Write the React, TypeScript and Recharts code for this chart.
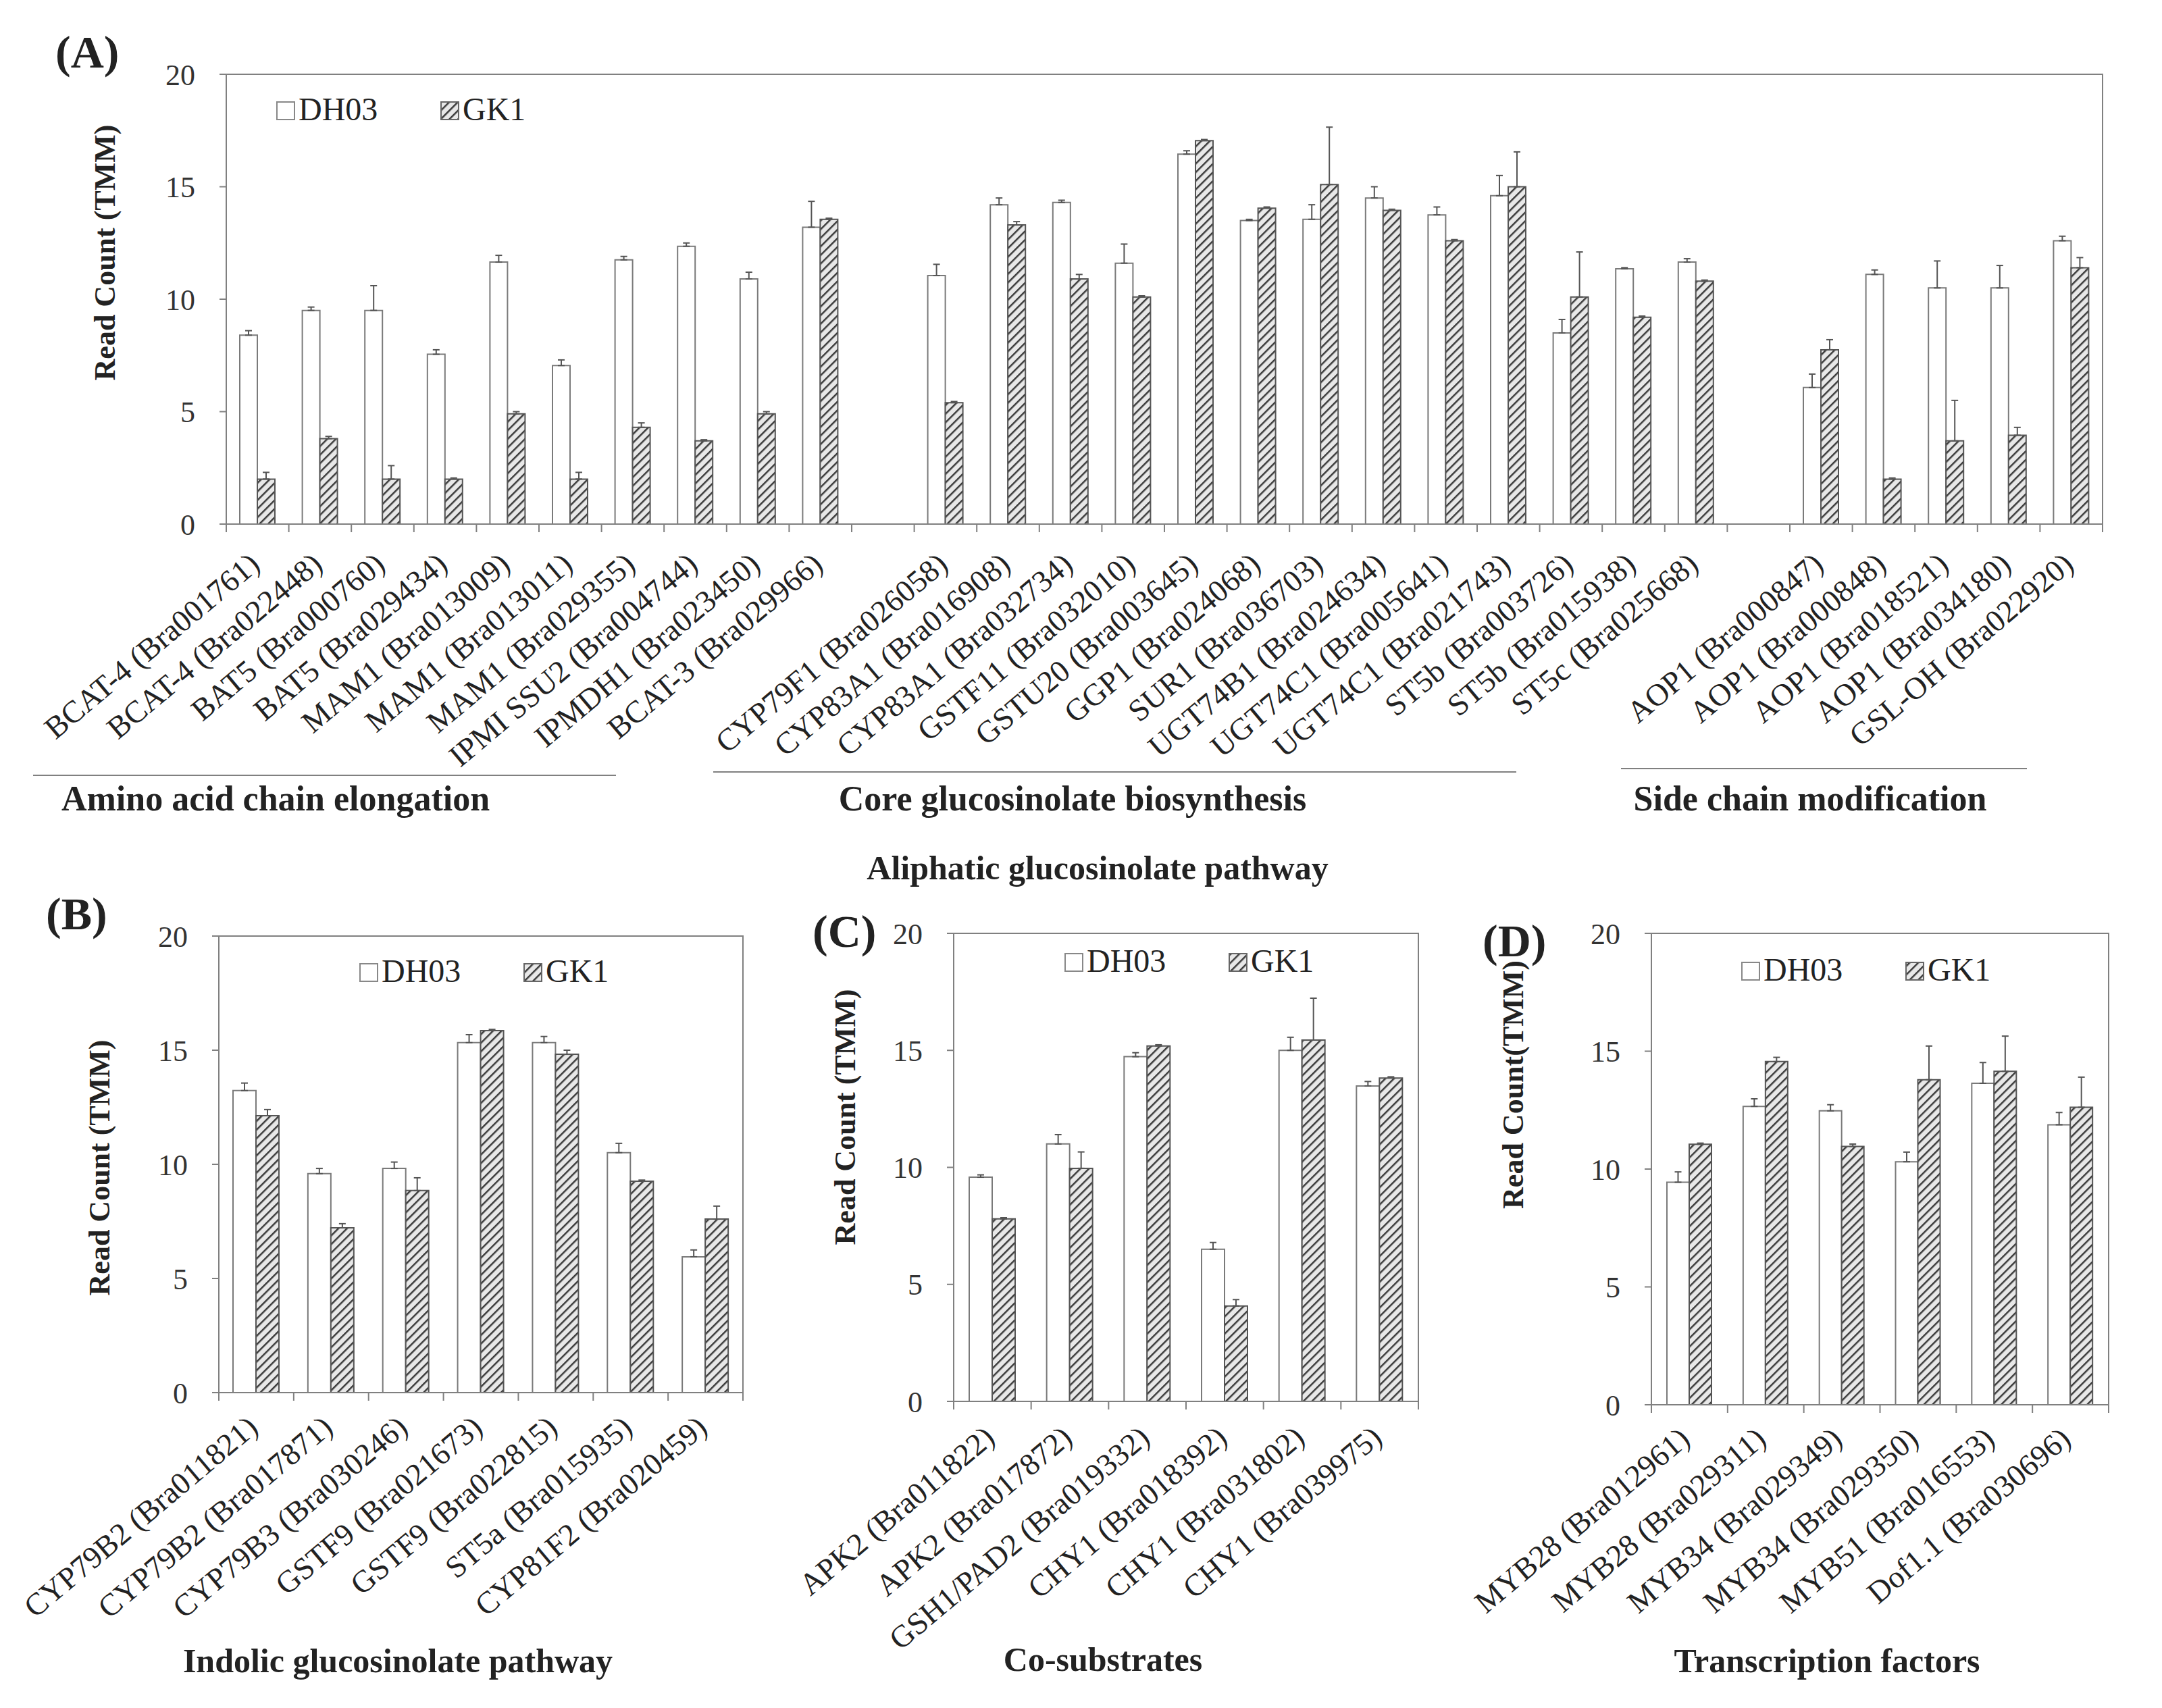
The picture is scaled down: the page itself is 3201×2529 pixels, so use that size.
import React from "react";
import { BarChart, Bar, XAxis, YAxis, ErrorBar } from "recharts";

const SERIF = "'Liberation Serif', 'Times New Roman', serif";
const AXIS = "#808080";
const INK = "#222";

const seriesNames = ["DH03", "GK1"];
const yTicks = [0, 5, 10, 15, 20];

// (A) aliphatic glucosinolate pathway
const aminoGenes = [
  "BCAT-4 (Bra001761)", "BCAT-4 (Bra022448)", "BAT5 (Bra000760)", "BAT5 (Bra029434)",
  "MAM1 (Bra013009)", "MAM1 (Bra013011)", "MAM1 (Bra029355)", "IPMI SSU2 (Bra004744)",
  "IPMDH1 (Bra023450)", "BCAT-3 (Bra029966)",
];
const aminoDH03 = [8.4, 9.5, 9.5, 7.55, 11.65, 7.05, 11.75, 12.35, 10.9, 13.2];
const aminoGK1 = [2.0, 3.8, 2.0, 2.0, 4.9, 2.0, 4.3, 3.7, 4.9, 13.55];
const aminoDH03Err = [0.2, 0.15, 1.1, 0.2, 0.3, 0.25, 0.15, 0.15, 0.3, 1.15];
const aminoGK1Err = [0.3, 0.1, 0.6, 0.05, 0.1, 0.3, 0.2, 0.05, 0.1, 0.05];

const coreGenes = [
  "CYP79F1 (Bra026058)", "CYP83A1 (Bra016908)", "CYP83A1 (Bra032734)", "GSTF11 (Bra032010)",
  "GSTU20 (Bra003645)", "GGP1 (Bra024068)", "SUR1 (Bra036703)", "UGT74B1 (Bra024634)",
  "UGT74C1 (Bra005641)", "UGT74C1 (Bra021743)", "ST5b (Bra003726)", "ST5b (Bra015938)",
  "ST5c (Bra025668)",
];
const coreDH03 = [11.05, 14.2, 14.3, 11.6, 16.45, 13.5, 13.55, 14.5, 13.75, 14.6, 8.5, 11.35, 11.65];
const coreGK1 = [5.4, 13.3, 10.9, 10.1, 17.05, 14.05, 15.1, 13.95, 12.6, 15.0, 10.1, 9.2, 10.8];
const coreDH03Err = [0.5, 0.3, 0.1, 0.85, 0.15, 0.05, 0.65, 0.5, 0.35, 0.9, 0.6, 0.05, 0.15];
const coreGK1Err = [0.05, 0.15, 0.2, 0.05, 0.05, 0.05, 2.55, 0.05, 0.05, 1.55, 2.0, 0.05, 0.05];

const sideGenes = [
  "AOP1 (Bra000847)", "AOP1 (Bra000848)", "AOP1 (Bra018521)", "AOP1 (Bra034180)", "GSL-OH (Bra022920)",
];
const sideDH03 = [6.07, 11.1, 10.5, 10.5, 12.6];
const sideGK1 = [7.75, 2.0, 3.7, 3.95, 11.4];
const sideDH03Err = [0.6, 0.2, 1.2, 1.0, 0.2];
const sideGK1Err = [0.45, 0.05, 1.8, 0.35, 0.45];

// (B) indolic glucosinolate pathway
const indolicGenes = [
  "CYP79B2 (Bra011821)", "CYP79B2 (Bra017871)", "CYP79B3 (Bra030246)", "GSTF9 (Bra021673)",
  "GSTF9 (Bra022815)", "ST5a (Bra015935)", "CYP81F2 (Bra020459)",
];
const indolicDH03 = [13.23, 9.59, 9.82, 15.33, 15.33, 10.51, 5.95];
const indolicGK1 = [12.13, 7.22, 8.85, 15.86, 14.82, 9.26, 7.6];
const indolicDH03Err = [0.33, 0.23, 0.28, 0.35, 0.27, 0.41, 0.3];
const indolicGK1Err = [0.27, 0.18, 0.56, 0.05, 0.18, 0.05, 0.57];

// (C) co-substrates
const cosubGenes = [
  "APK2 (Bra011822)", "APK2 (Bra017872)", "GSH1/PAD2 (Bra019332)", "CHY1 (Bra018392)",
  "CHY1 (Bra031802)", "CHY1 (Bra039975)",
];
const cosubDH03 = [9.58, 11.0, 14.73, 6.5, 15.0, 13.48];
const cosubGK1 = [7.8, 9.96, 15.19, 4.08, 15.44, 13.82];
const cosubDH03Err = [0.1, 0.4, 0.17, 0.29, 0.56, 0.19];
const cosubGK1Err = [0.05, 0.7, 0.05, 0.27, 1.79, 0.05];

// (D) transcription factors
const tfGenes = [
  "MYB28 (Bra012961)", "MYB28 (Bra029311)", "MYB34 (Bra029349)", "MYB34 (Bra029350)",
  "MYB51 (Bra016553)", "Dof1.1 (Bra030696)",
];
const tfDH03 = [9.44, 12.66, 12.47, 10.31, 13.64, 11.88];
const tfGK1 = [11.05, 14.56, 10.96, 13.79, 14.15, 12.62];
const tfDH03Err = [0.44, 0.32, 0.26, 0.41, 0.88, 0.52];
const tfGK1Err = [0.05, 0.18, 0.1, 1.43, 1.49, 1.28];

type Row = {
  name: string;
  dh03: number | null;
  gk1: number | null;
  dh03Err?: number[];
  gk1Err?: number[];
};

function rows(genes: string[], a: number[], b: number[], ea: number[], eb: number[]): Row[] {
  return genes.map((g, i) => ({
    name: g,
    dh03: a[i],
    gk1: b[i],
    dh03Err: [0, ea[i]],
    gk1Err: [0, eb[i]],
  }));
}

const gap = (id: string): Row => ({ name: id, dh03: null, gk1: null });

const dataA = [
  ...rows(aminoGenes, aminoDH03, aminoGK1, aminoDH03Err, aminoGK1Err),
  gap("gap-1"),
  ...rows(coreGenes, coreDH03, coreGK1, coreDH03Err, coreGK1Err),
  gap("gap-2"),
  ...rows(sideGenes, sideDH03, sideGK1, sideDH03Err, sideGK1Err),
];
const dataB = rows(indolicGenes, indolicDH03, indolicGK1, indolicDH03Err, indolicGK1Err);
const dataC = rows(cosubGenes, cosubDH03, cosubGK1, cosubDH03Err, cosubGK1Err);
const dataD = rows(tfGenes, tfDH03, tfGK1, tfDH03Err, tfGK1Err);

type PanelProps = {
  data: Row[];
  left: number;
  top: number;
  width: number;
  height: number;
  margin: { top: number; right: number; bottom: number; left: number };
  yAxisWidth: number;
  xAxisHeight: number;
  barSize: number;
  labelDx: number;
  labelDy: number;
};

function Panel(p: PanelProps) {
  const plotW = p.width - p.margin.left - p.margin.right - p.yAxisWidth;
  const band = plotW / p.data.length;
  const n = p.data.length;

  const renderTick = (t: any) => {
    const { x, y, payload, index } = t;
    const label = String(payload.value);
    const isGap = label.startsWith("gap-");
    return (
      <g>
        <line x1={x - band / 2} x2={x - band / 2} y1={y} y2={y + 12} stroke={AXIS} strokeWidth={2} />
        {index === n - 1 && (
          <line x1={x + band / 2} x2={x + band / 2} y1={y} y2={y + 12} stroke={AXIS} strokeWidth={2} />
        )}
        {!isGap && (
          <text
            transform={`translate(${x + p.labelDx},${y + p.labelDy}) rotate(-40)`}
            textAnchor="end"
            fontSize={46}
            fontFamily={SERIF}
            fill={INK}
          >
            {label}
          </text>
        )}
      </g>
    );
  };

  return (
    <div style={{ position: "absolute", left: p.left, top: p.top }}>
      <BarChart width={p.width} height={p.height} data={p.data} margin={p.margin} barGap={0}>
        <XAxis
          dataKey="name"
          interval={0}
          height={p.xAxisHeight}
          tickLine={false}
          tickSize={0}
          tickMargin={0}
          axisLine={{ stroke: AXIS, strokeWidth: 2 }}
          tick={renderTick}
        />
        <YAxis
          domain={[0, 20]}
          ticks={yTicks}
          interval={0}
          width={p.yAxisWidth}
          tickSize={10}
          tickMargin={36}
          axisLine={{ stroke: AXIS, strokeWidth: 2 }}
          tickLine={{ stroke: AXIS, strokeWidth: 2 }}
          tick={{ fontSize: 44, fill: "#333", fontFamily: SERIF }}
        />
        <Bar
          dataKey="dh03"
          name={seriesNames[0]}
          fill="#ffffff"
          stroke="#7a7a7a"
          strokeWidth={2}
          barSize={p.barSize}
          isAnimationActive={false}
        >
          <ErrorBar dataKey="dh03Err" width={5} stroke="#555" strokeWidth={2} direction="y" />
        </Bar>
        <Bar
          dataKey="gk1"
          name={seriesNames[1]}
          fill="url(#hatch)"
          stroke="#555"
          strokeWidth={2}
          barSize={p.barSize}
          isAnimationActive={false}
        >
          <ErrorBar dataKey="gk1Err" width={5} stroke="#555" strokeWidth={2} direction="y" />
        </Bar>
      </BarChart>
    </div>
  );
}

function Legend({ x, y }: { x: number; y: number }) {
  // x,y = top-left of the DH03 swatch
  return (
    <g>
      <rect x={x} y={y} width={26} height={26} fill="#fff" stroke="#888" strokeWidth={2} />
      <text x={x + 32} y={y + 27} fontSize={48} fontFamily={SERIF} fill={INK}>
        {seriesNames[0]}
      </text>
      <rect x={x + 243} y={y} width={26} height={26} fill="url(#hatch)" stroke="#666" strokeWidth={2} />
      <text x={x + 275} y={y + 27} fontSize={48} fontFamily={SERIF} fill={INK}>
        {seriesNames[1]}
      </text>
    </g>
  );
}

const bold = { fontFamily: SERIF, fontWeight: 700, fill: INK } as const;

export default function App() {
  return (
    <div style={{ position: "absolute", left: 0, top: 0, width: 3201, height: 2529, background: "#fff" }}>
      <Panel
        data={dataA}
        left={0}
        top={0}
        width={3201}
        height={1180}
        margin={{ top: 110, right: 88, bottom: 74, left: 0 }}
        yAxisWidth={335}
        xAxisHeight={330}
        barSize={26}
        labelDx={6}
        labelDy={64}
      />
      <Panel
        data={dataB}
        left={0}
        top={1300}
        width={1150}
        height={1180}
        margin={{ top: 86, right: 50, bottom: 118, left: 0 }}
        yAxisWidth={324}
        xAxisHeight={300}
        barSize={34}
        labelDx={5}
        labelDy={56}
      />
      <Panel
        data={dataC}
        left={1150}
        top={1300}
        width={1000}
        height={1180}
        margin={{ top: 82, right: 50, bottom: 105, left: 0 }}
        yAxisWidth={262}
        xAxisHeight={300}
        barSize={34}
        labelDx={6}
        labelDy={58}
      />
      <Panel
        data={dataD}
        left={2150}
        top={1300}
        width={1051}
        height={1180}
        margin={{ top: 82, right: 79, bottom: 100, left: 0 }}
        yAxisWidth={295}
        xAxisHeight={300}
        barSize={33}
        labelDx={3}
        labelDy={55}
      />

      <svg
        width={3201}
        height={2529}
        style={{ position: "absolute", left: 0, top: 0, pointerEvents: "none" }}
      >
        <defs>
          <pattern id="hatch" patternUnits="userSpaceOnUse" width={9} height={9} patternTransform="rotate(45)">
            <rect width={9} height={9} fill="#e8e8e8" />
            <line x1={0} y1={0} x2={0} y2={9} stroke="#3a3a3a" strokeWidth={5} />
          </pattern>
        </defs>

        {/* plot frames */}
        <rect x={335} y={110} width={2778} height={666} fill="none" stroke={AXIS} strokeWidth={2} />
        <rect x={324} y={1386} width={776} height={676} fill="none" stroke={AXIS} strokeWidth={2} />
        <rect x={1412} y={1382} width={688} height={693} fill="none" stroke={AXIS} strokeWidth={2} />
        <rect x={2445} y={1382} width={677} height={698} fill="none" stroke={AXIS} strokeWidth={2} />

        {/* panel letters */}
        <text x={82} y={100} fontSize={68} {...bold}>(A)</text>
        <text x={68} y={1376} fontSize={68} {...bold}>(B)</text>
        <text x={1203} y={1402} fontSize={68} {...bold}>(C)</text>
        <text x={2195} y={1416} fontSize={68} {...bold}>(D)</text>

        {/* y axis titles */}
        <text transform="translate(170,374) rotate(-90)" textAnchor="middle" fontSize={44} {...bold}>
          Read Count (TMM)
        </text>
        <text transform="translate(162,1729) rotate(-90)" textAnchor="middle" fontSize={44} {...bold}>
          Read Count (TMM)
        </text>
        <text transform="translate(1266,1654) rotate(-90)" textAnchor="middle" fontSize={44} {...bold}>
          Read Count (TMM)
        </text>
        <text transform="translate(2255,1606) rotate(-90)" textAnchor="middle" fontSize={44} {...bold}>
          Read Count(TMM)
        </text>

        {/* legends */}
        <Legend x={410} y={151} />
        <Legend x={533} y={1427} />
        <Legend x={1577} y={1412} />
        <Legend x={2579} y={1425} />

        {/* group lines and titles in (A) */}
        <line x1={49} x2={912} y1={1148} y2={1148} stroke={AXIS} strokeWidth={2} />
        <line x1={1056} x2={2245} y1={1143} y2={1143} stroke={AXIS} strokeWidth={2} />
        <line x1={2400} x2={3001} y1={1138} y2={1138} stroke={AXIS} strokeWidth={2} />
        <text x={408} y={1200} textAnchor="middle" fontSize={52} {...bold}>Amino acid chain elongation</text>
        <text x={1588} y={1200} textAnchor="middle" fontSize={52} {...bold}>Core glucosinolate biosynthesis</text>
        <text x={2680} y={1200} textAnchor="middle" fontSize={52} {...bold}>Side chain modification</text>
        <text x={1625} y={1302} textAnchor="middle" fontSize={50} {...bold}>Aliphatic glucosinolate pathway</text>

        <text x={589} y={2476} textAnchor="middle" fontSize={50} {...bold}>Indolic glucosinolate pathway</text>
        <text x={1633} y={2474} textAnchor="middle" fontSize={50} {...bold}>Co-substrates</text>
        <text x={2705} y={2476} textAnchor="middle" fontSize={50} {...bold}>Transcription factors</text>
      </svg>
    </div>
  );
}
